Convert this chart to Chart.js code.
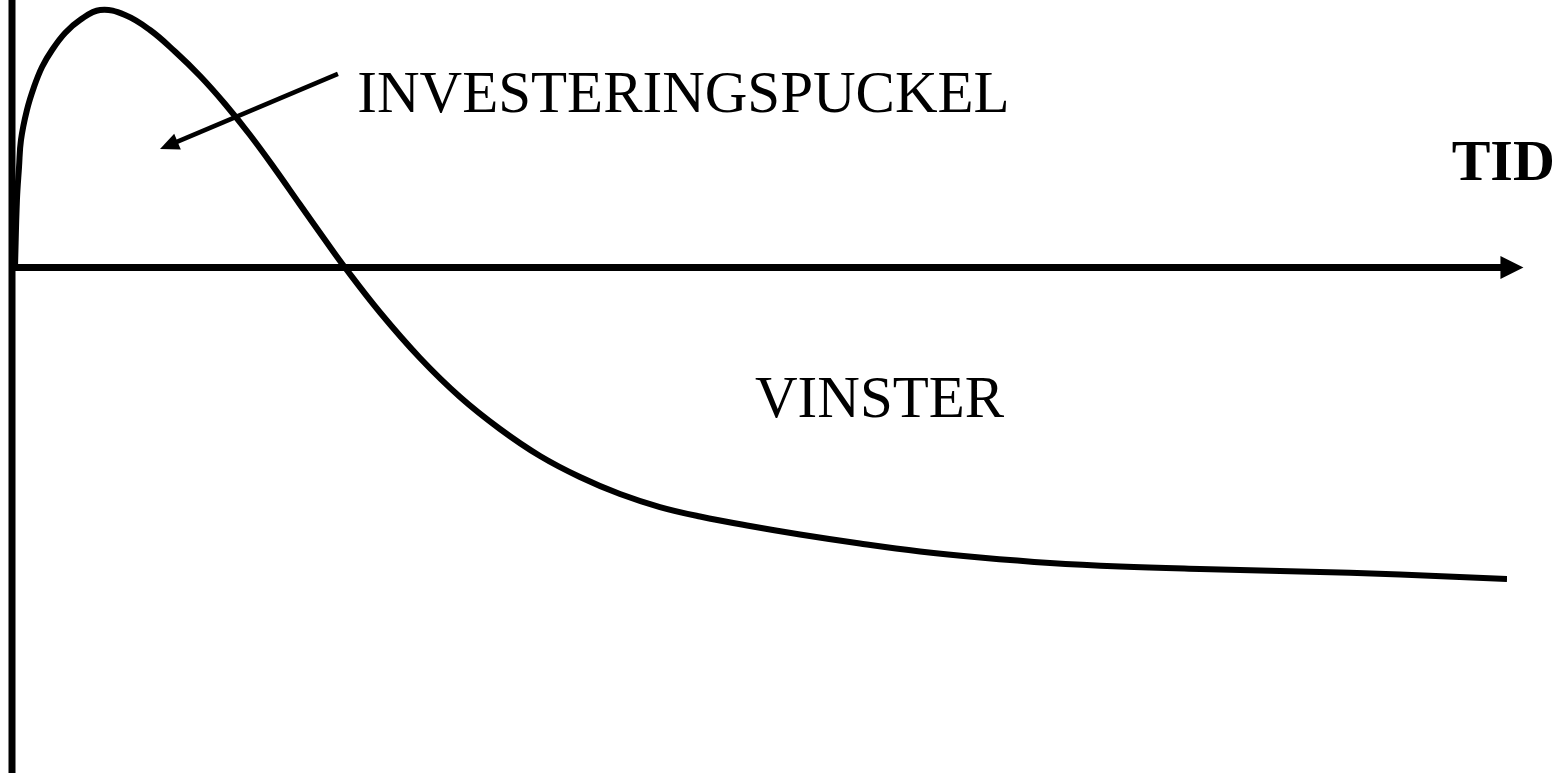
<!DOCTYPE html>
<html>
<head>
<meta charset="utf-8">
<script src="https://cdn.jsdelivr.net/npm/chart.js@4.4.0/dist/chart.umd.min.js"></script>
<style>
  html, body { margin: 0; padding: 0; background: #fff; }
  #wrap { width: 1559px; height: 773px; position: relative; }
</style>
</head>
<body>
<div id="wrap"><canvas id="kurva"></canvas></div>
<script>
// tid (x) and vinst (y)
const tid = [0.2, 0.33, 0.47, 0.6, 1.0, 1.47, 2.01, 2.68, 3.55, 4.55, 5.89, 7.56, 9.23, 10.9,
  12.58, 14.25, 15.92, 17.59, 19.26, 20.94, 22.27, 24.62, 27.29, 29.97, 32.64, 35.32, 37.99,
  40.67, 43.34, 46.02, 49.36, 52.71, 56.72, 60.74, 64.75, 69.43, 74.11, 79.46, 86.15, 92.84, 100];
const vinst = [0, 12.61, 18.78, 23.83, 29.44, 33.74, 37.48, 40.65, 43.83, 46.26, 48.13, 47.2,
  44.39, 40.37, 35.79, 30.56, 24.76, 18.41, 11.77, 5.14, 0, -8.42, -16.92, -24.21, -30.19,
  -35.24, -39.17, -42.35, -44.78, -46.55, -48.33, -49.92, -51.6, -53.09, -54.22, -55.24,
  -55.9, -56.37, -56.83, -57.39, -58.23];

const labels = ['INVESTERINGSPUCKEL', 'VINSTER', 'TID'];

const points = tid.map((t, i) => ({ x: t, y: vinst[i] }));

const serif = '"Liberation Serif", "Times New Roman", serif';

// axes, arrows and text drawn in data coordinates through the scales
const axelPlugin = {
  id: 'axlar',
  beforeDatasetsDraw(chart) {
    const ctx = chart.ctx;
    const xs = chart.scales.x, ys = chart.scales.y;
    const x0 = xs.getPixelForValue(0);
    const y0 = ys.getPixelForValue(0);
    const xEnd = xs.getPixelForValue(101.1);
    ctx.save();
    ctx.strokeStyle = '#000';
    ctx.fillStyle = '#000';
    ctx.lineWidth = 7;
    // y axis
    ctx.beginPath();
    ctx.moveTo(x0, 0);
    ctx.lineTo(x0, chart.height);
    ctx.stroke();
    // x axis
    ctx.beginPath();
    ctx.moveTo(x0, y0);
    ctx.lineTo(xEnd - 20, y0);
    ctx.stroke();
    ctx.beginPath();
    ctx.moveTo(xEnd, y0);
    ctx.lineTo(xEnd - 23, y0 - 11.5);
    ctx.lineTo(xEnd - 23, y0 + 11.5);
    ctx.closePath();
    ctx.fill();
    ctx.restore();
  },
  afterDraw(chart) {
    const ctx = chart.ctx;
    const xs = chart.scales.x, ys = chart.scales.y;
    const px = v => xs.getPixelForValue(v), py = v => ys.getPixelForValue(v);
    ctx.save();
    ctx.fillStyle = '#000';
    ctx.strokeStyle = '#000';
    ctx.textBaseline = 'alphabetic';
    ctx.textAlign = 'left';
    ctx.font = '59px ' + serif;
    ctx.fillText(labels[0], px(23.1), py(29.1));
    ctx.fillText(labels[1], px(49.7), py(-28));
    ctx.font = 'bold 58px ' + serif;
    ctx.fillText(labels[2], px(96.3), py(16.35));

    // pointer arrow
    const ax = px(21.8), ay = py(36.2), bx = px(9.9), by = py(22.15);
    const ang = Math.atan2(by - ay, bx - ax);
    const hl = 19, hw = 8.5;
    ctx.lineWidth = 4.5;
    ctx.beginPath();
    ctx.moveTo(ax, ay);
    ctx.lineTo(bx - Math.cos(ang) * (hl - 2), by - Math.sin(ang) * (hl - 2));
    ctx.stroke();
    ctx.beginPath();
    ctx.moveTo(bx, by);
    ctx.lineTo(bx - Math.cos(ang) * hl + Math.sin(ang) * hw, by - Math.sin(ang) * hl - Math.cos(ang) * hw);
    ctx.lineTo(bx - Math.cos(ang) * hl - Math.sin(ang) * hw, by - Math.sin(ang) * hl + Math.cos(ang) * hw);
    ctx.closePath();
    ctx.fill();
    ctx.restore();
  }
};

new Chart(document.getElementById('kurva'), {
  type: 'line',
  data: {
    datasets: [{
      data: points,
      borderColor: '#000',
      borderWidth: 6,
      pointRadius: 0,
      fill: false,
      tension: 0.4
    }]
  },
  options: {
    responsive: true,
    maintainAspectRatio: false,
    animation: false,
    layout: { padding: { left: 12, right: 52, top: 0, bottom: 0 } },
    plugins: { legend: { display: false }, tooltip: { enabled: false } },
    scales: {
      x: { type: 'linear', min: 0, max: 100, display: false },
      y: { min: -94.5, max: 50, display: false }
    }
  },
  plugins: [axelPlugin]
});
</script>
</body>
</html>
